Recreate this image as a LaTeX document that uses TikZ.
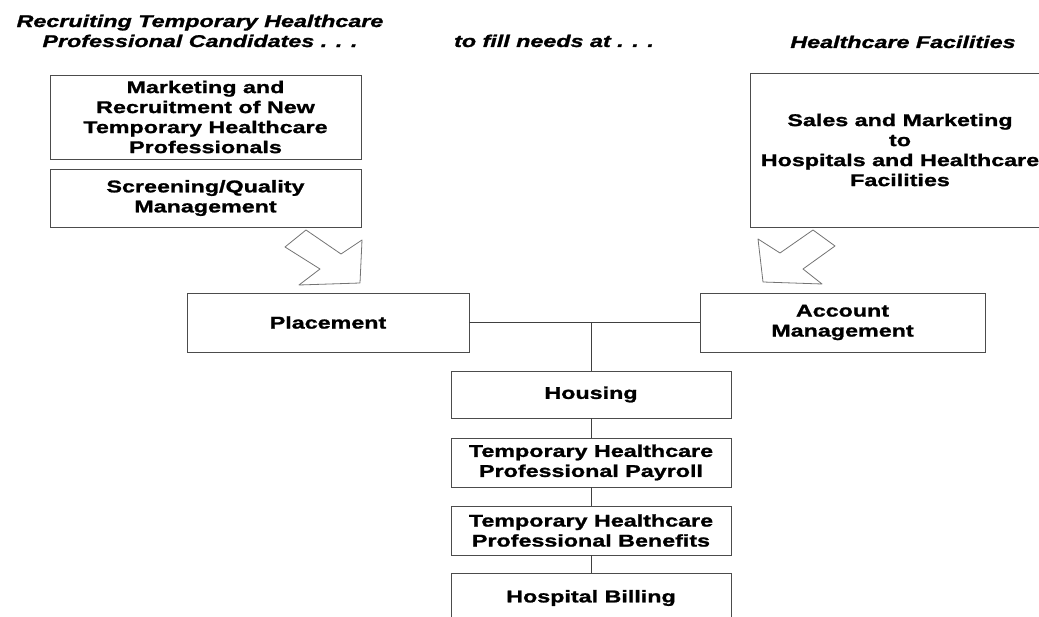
\documentclass[tikz,border=0pt]{standalone}
\usepackage{fontspec}
\setmainfont{Liberation Sans}[FakeStretch=1.37,
  BoldFeatures={FakeBold=1.3}, BoldItalicFeatures={FakeBold=1.3}]
\begin{document}
\begin{tikzpicture}[x=1pt,y=-1pt,
  box/.style={draw=black!70, line width=0.9pt, inner sep=0pt, align=center,
              font=\fontsize{17}{20}\selectfont\bfseries},
  head/.style={inner sep=0pt, align=center,
               font=\fontsize{17}{20}\selectfont\bfseries\itshape},
  link/.style={draw=black!75, line width=0.9pt},
  bigarrow/.style={draw=black!55, line width=0.8pt, line join=round}]
\useasboundingbox (0,0) rectangle (1039,617);
\clip (0,0) rectangle (1039,617);

% column headings
\node[head, anchor=north] (h1) at (200,14.5)
  {Recruiting Temporary Healthcare\\Professional Candidates . . .};
\node[head, anchor=base] (h2) at (554,47) {to fill needs at . . .};
\node[head, anchor=base] (h3) at (903,48) {Healthcare Facilities};

% recruiting side
\node[box, minimum width=311pt, minimum height=84pt] (mk) at (205.5,117)
  {Marketing and\\Recruitment of New\\Temporary Healthcare\\Professionals};
\node[box, minimum width=311pt, minimum height=58pt] (sq) at (205.5,198)
  {Screening/Quality\\Management};

% facilities side
\node[box, minimum width=300pt, minimum height=154pt] (sm) at (900,150)
  {Sales and Marketing\\to\\Hospitals and Healthcare\\Facilities};

% middle row
\node[box, minimum width=282pt, minimum height=59pt] (pl) at (328,322.5) {Placement};
\node[box, minimum width=285pt, minimum height=59pt] (am) at (842.5,322.5)
  {Account\\Management};

% support services
\node[box, minimum width=280pt, minimum height=47pt] (ho) at (591,394.5) {Housing};
\node[box, minimum width=280pt, minimum height=49pt] (pa) at (591,462.5)
  {Temporary Healthcare\\Professional Payroll};
\node[box, minimum width=280pt, minimum height=49pt] (be) at (591,530.5)
  {Temporary Healthcare\\Professional Benefits};
\node[box, minimum width=280pt, minimum height=50pt] (bi) at (591,598) {Hospital Billing};

% connectors
\coordinate (j) at (ho.north |- pl.east);
\draw[link] (pl.east) -- (am.west);
\draw[link] (j) -- (ho.north);
\draw[link] (ho.south) -- (pa.north);
\draw[link] (pa.south) -- (be.north);
\draw[link] (be.south) -- (bi.north);

% block arrows
\draw[bigarrow] (306,230) -- (285,247) -- (320,269) -- (299,285) -- (360,283)
  -- (362,240) -- (341,254) -- cycle;
\draw[bigarrow] (813,230) -- (835,246) -- (803,269) -- (822,284) -- (763,282)
  -- (758,239) -- (780,253) -- cycle;
\end{tikzpicture}
\end{document}
